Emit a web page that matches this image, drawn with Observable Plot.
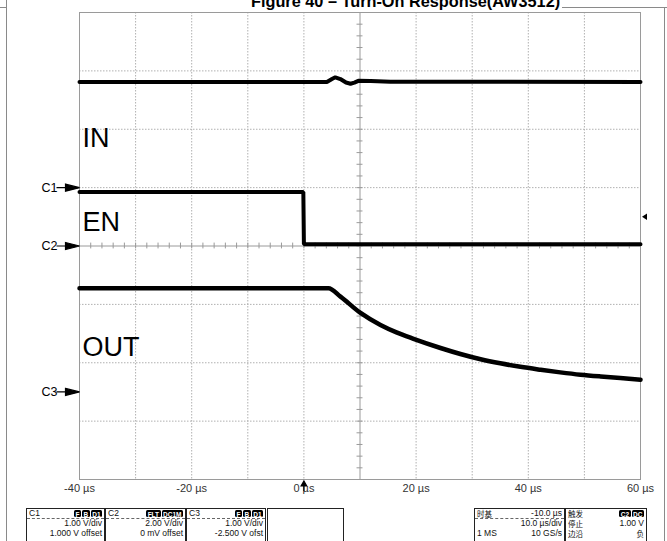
<!DOCTYPE html>
<html>
<head>
<meta charset="utf-8">
<script src="https://cdn.jsdelivr.net/npm/d3@7"></script>
<script src="https://cdn.jsdelivr.net/npm/@observablehq/plot@0.6"></script>
<style>
  html, body { margin: 0; padding: 0; background: #fff; }
  #wrap { position: relative; width: 667px; height: 541px; overflow: hidden; background: #fff;
          font-family: "Liberation Sans", Arial, sans-serif; }
  #title { position: absolute; left: 251px; top: -7.5px; font: bold 16.3px/16px "Liberation Sans", Arial, sans-serif;
           white-space: nowrap; color: #000; }
  .vline { position: absolute; width: 1px; background: #8a8a8a; }
  .hline { position: absolute; height: 1px; background: #8a8a8a; }
  #chart { position: absolute; left: 0; top: 0; }
  .box { position: absolute; top: 508px; height: 40px; border: 1px solid #222; border-bottom: none;
         box-sizing: border-box; background: #fff; font: 8.5px/9px "Liberation Sans", Arial, "Noto Sans CJK SC", sans-serif; color: #111; }
  .hdr { height: 9px; line-height: 9px; border-bottom: 1px dashed #666; display: flex; justify-content: space-between;
         align-items: center; padding: 0 2px; white-space: nowrap; }
  .row { height: 9.5px; line-height: 9.5px; display: flex; justify-content: space-between; align-items: center;
         padding: 0 2px; white-space: nowrap; }
  .row span, .hdr span { line-height: 9px; }
  .cjk { font-family: "Noto Sans CJK SC", sans-serif; font-size: 7.5px; line-height: 8px; }
  .badges { display: flex; gap: 1px; }
  .badge { background: #000; color: #fff; font: bold 6.5px/7.5px "Liberation Sans", Arial, sans-serif; padding: 0 1.5px;
           border-radius: 1.5px; height: 7.5px; }
</style>
</head>
<body>
<div id="wrap">
  <div id="chart"></div>
</div>
<script>
// ---- data (time in µs, level in screen divisions) ----
const tIN  = [-40, 4.1, 5.0, 5.6, 6.5, 7.5, 8.3, 9.0, 9.7, 11.9, 15.4, 60];
const vIN  = [2.81, 2.81, 2.86, 2.89, 2.86, 2.80, 2.78, 2.80, 2.83, 2.825, 2.815, 2.81];

const tEN  = [-40, -0.1, 0.0, 60];
const vEN  = [0.925, 0.925, 0.03, 0.03];

const tOUT = [-40, 4.38, 6.52, 10.09, 13.65, 16.5, 19.54, 24.35, 27.9, 31.5, 35.0, 38.6, 42.2, 45.7, 49.3, 52.9, 56.4, 60];
const vOUT = [-0.725, -0.725, -0.868, -1.147, -1.353, -1.48, -1.59, -1.747, -1.85, -1.94, -2.01, -2.07, -2.12, -2.165, -2.205, -2.235, -2.26, -2.29];

const traceNames  = ["IN", "EN", "OUT"];
const traceLabelY = [1.85, 0.41, -1.73];

const channelNames = ["C1", "C2", "C3"];
const channelY     = [1.0, 0.0, -2.5];

const xTicks = [-40, -20, 0, 20, 40, 60];
const triggerLevel = 0.5;   // divisions
const triggerTime  = 0;     // µs
const title = "Figure 40 – Turn-On Response(AW3512)";

const panels = [
  {left: 26,  width: 79, head: "C1", badges: ["F", "B", "D1"], rows: [["", "1.00 V/div"], ["", "1.000 V offset"]]},
  {left: 105, width: 81, head: "C2", badges: ["FLT", "DC1M"], rows: [["", "2.00 V/div"], ["", "0 mV offset"]]},
  {left: 186, width: 80, head: "C3", badges: ["F", "B", "D1"], rows: [["", "1.00 V/div"], ["", "-2.500 V ofst"]]},
  {left: 267, width: 77, head: "", badges: [], rows: [["", ""], ["", ""]], noDash: true},
  {left: 474, width: 91, head: "时基", headRight: "-10.0 µs", badges: [], rows: [["", "10.0 µs/div"], ["1 MS", "10 GS/s"]]},
  {left: 565, width: 82, head: "触发", badges: ["C2", "DC"], rows: [["停止", "1.00 V"], ["边沿", "负"]], noDash: true}
];

// ---- build table ----
const traces = [
  ...tIN.map((t, i) => ({ch: "IN", t, v: vIN[i]})),
  ...tEN.map((t, i) => ({ch: "EN", t, v: vEN[i]})),
];
const outTrace = tOUT.map((t, i) => ({ch: "OUT", t, v: vOUT[i]}));
const labels = traceNames.map((n, i) => ({n, y: traceLabelY[i]}));
const chans = channelNames.map((n, i) => ({n, y: channelY[i]}));

const gridX = d3.range(-40, 61, 10).filter(d => d !== 10 && d !== -40 && d !== 60);
const gridY = d3.range(-4, 5, 1).filter(d => d !== 0 && Math.abs(d) !== 4);
const minorX = d3.range(-40, 60.01, 2);
const minorY = d3.range(-4, 4.01, 0.2);

// custom symbols
const arrowRight = {draw(ctx) {
  ctx.moveTo(-23, 0); ctx.lineTo(-14, 0);
  ctx.moveTo(-14, -3.5); ctx.lineTo(0, 0); ctx.lineTo(-14, 3.5); ctx.closePath();
}};
const arrowLeftSmall = {draw(ctx) {
  ctx.moveTo(0, 0); ctx.lineTo(5, -3.2); ctx.lineTo(5, 3.2); ctx.closePath();
}};
const arrowUp = {draw(ctx) {
  ctx.moveTo(0, 0); ctx.lineTo(-2.8, 5); ctx.lineTo(2.8, 5); ctx.closePath();
  ctx.moveTo(0, 5); ctx.lineTo(0, 10);
}};

const chart = Plot.plot({
  width: 667,
  height: 541,
  marginLeft: 79,
  marginRight: 27,
  marginTop: 12,
  marginBottom: 62,
  x: {domain: [-40, 60], label: null},
  y: {domain: [-4, 4], axis: null, label: null},
  style: {background: "transparent", fontFamily: "'Liberation Sans', Arial, sans-serif", overflow: "visible"},
  marks: [
    Plot.ruleX(gridX, {stroke: "#b0b0b0", strokeDasharray: "1.5,1.5"}),
    Plot.ruleY(gridY, {stroke: "#b0b0b0", strokeDasharray: "1.5,1.5"}),
    Plot.ruleX([10], {stroke: "#9a9a9a"}),
    Plot.ruleY([0], {stroke: "#9a9a9a"}),
    Plot.ruleX(minorX, {y1: -0.05, y2: 0.05, stroke: "#9a9a9a"}),
    Plot.ruleY(minorY, {x1: 9.47, x2: 10.53, stroke: "#9a9a9a"}),
    Plot.frame({stroke: "#9a9a9a"}),
    Plot.axisX(xTicks, {tickSize: 0, tickPadding: 5, tickFormat: d => `${d} µs`, fontSize: 11, fill: "#333", label: null}),
    Plot.line(traces, {x: "t", y: "v", z: "ch", stroke: "#000", strokeWidth: 4, strokeLinejoin: "miter"}),
    Plot.line(outTrace, {x: "t", y: "v", stroke: "#000", strokeWidth: 4.5, curve: "monotone-x"}),
    Plot.text(labels, {x: -40, y: "y", text: "n", dx: 3, textAnchor: "start", fontSize: 27, fill: "#000"}),
    Plot.dot(chans, {x: -40, y: "y", symbol: arrowRight, fill: "#000", stroke: "#000", strokeWidth: 1.2}),
    Plot.text(chans, {x: -40, y: "y", text: "n", dx: -22, textAnchor: "end", fontSize: 12.5, fill: "#000"}),
    Plot.dot([triggerLevel], {x: 60, y: d => d, symbol: arrowLeftSmall, fill: "#000", stroke: "none", dx: 1.5}),
    Plot.dot([triggerTime], {x: d => d, y: -4, symbol: arrowUp, fill: "#000", stroke: "#000", strokeWidth: 1.2, dy: 1.5})
  ]
});
document.getElementById("chart").appendChild(chart);

const wrap = document.getElementById("wrap");
// title & page frame lines
const t = document.createElement("div"); t.id = "title"; t.textContent = title; wrap.appendChild(t);
const addLine = (cls, css) => { const d = document.createElement("div"); d.className = cls; Object.assign(d.style, css); wrap.appendChild(d); };
addLine("vline", {left: "6px", top: "0px", height: "541px"});
addLine("vline", {left: "664px", top: "7px", height: "534px"});
addLine("hline", {left: "0px", top: "7px", width: "7px"});
addLine("hline", {left: "562px", top: "7px", width: "105px"});

// info panel
panels.forEach(p => {
  const b = document.createElement("div");
  b.className = "box";
  b.style.left = p.left + "px"; b.style.width = p.width + "px";
  const isCjk = s => /[\u4e00-\u9fff]/.test(s);
  const span = s => `<span class="${isCjk(s) ? "cjk" : ""}">${s}</span>`;
  const badgeHtml = p.badges.length ? `<span class="badges">${p.badges.map(x => `<span class="badge">${x}</span>`).join("")}</span>` : "";
  const right = p.headRight ? span(p.headRight) : badgeHtml;
  let html = `<div class="hdr" style="${p.noDash ? "border-bottom-color:transparent" : ""}">${span(p.head)}${right}</div>`;
  p.rows.forEach(r => { html += `<div class="row">${span(r[0])}${span(r[1])}</div>`; });
  b.innerHTML = html;
  wrap.appendChild(b);
});
</script>
</body>
</html>
